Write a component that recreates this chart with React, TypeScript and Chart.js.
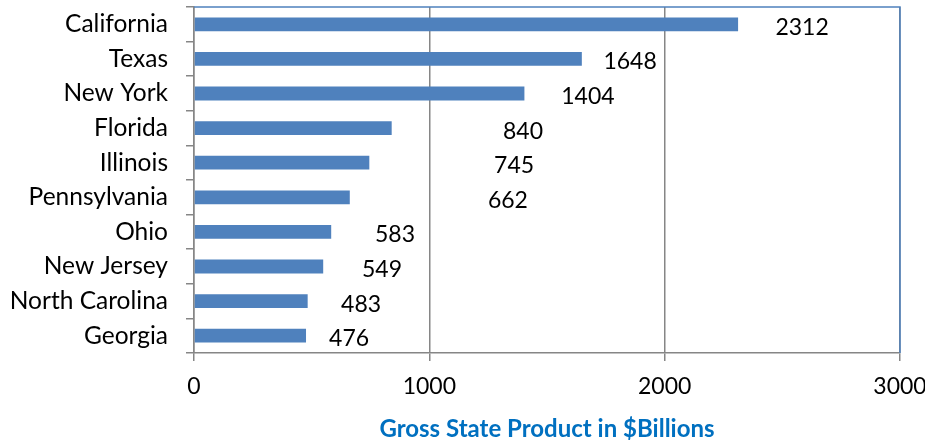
import React, { useEffect, useRef } from "react";
import { Chart, registerables } from "chart.js";

Chart.register(...registerables);

const states = [
  "California",
  "Texas",
  "New York",
  "Florida",
  "Illinois",
  "Pennsylvania",
  "Ohio",
  "New Jersey",
  "North Carolina",
  "Georgia",
];
const gsp = [2312, 1648, 1404, 840, 745, 662, 583, 549, 483, 476];
// where each value label sits, in axis units
const labelAt = [2584, 1853, 1674, 1398, 1360, 1334, 854, 799, 710, 659];
const xTicks = [0, 1000, 2000, 3000];
const xTitle = "Gross State Product in $Billions";

const FONT = "Lato, 'DejaVu Sans', sans-serif";
const GRAY = "#868686";
const BLUE = "#4f81bd";

const labelPlugin = {
  id: "valueLabels",
  afterDatasetsDraw(chart: any) {
    const { ctx, scales } = chart;
    const meta = chart.getDatasetMeta(0);
    ctx.save();
    ctx.font = `23px ${FONT}`;
    ctx.fillStyle = "#000";
    ctx.textAlign = "center";
    ctx.textBaseline = "middle";
    meta.data.forEach((bar: any, i: number) => {
      const x = scales.x.getPixelForValue(labelAt[i]);
      ctx.fillText(String(gsp[i]), x, bar.y + 3);
    });
    ctx.restore();
  },
  afterDraw(chart: any) {
    const { ctx, chartArea } = chart;
    ctx.save();
    ctx.strokeStyle = BLUE;
    ctx.lineWidth = 1.5;
    ctx.beginPath();
    ctx.moveTo(chartArea.left, chartArea.top);
    ctx.lineTo(chartArea.right, chartArea.top);
    ctx.lineTo(chartArea.right, chartArea.bottom);
    ctx.stroke();
    ctx.restore();
  },
};

export default function App() {
  const ref = useRef<HTMLCanvasElement>(null);
  useEffect(() => {
    if (!ref.current) return;
    const chart = new Chart(ref.current, {
      type: "bar",
      data: {
        labels: states,
        datasets: [
          {
            data: gsp,
            backgroundColor: BLUE,
            borderWidth: 0,
            categoryPercentage: 1,
            barPercentage: 0.4,
          },
        ],
      },
      options: {
        indexAxis: "y",
        animation: false,
        responsive: false,
        maintainAspectRatio: false,
        layout: { padding: { top: 7, right: 25, left: 0, bottom: 0 } },
        plugins: {
          legend: { display: false },
          tooltip: { enabled: false },
        },
        scales: {
          x: {
            min: xTicks[0],
            max: xTicks[xTicks.length - 1],
            afterBuildTicks(scale: any) {
              scale.ticks = xTicks.map((v) => ({ value: v }));
            },
            afterFit(scale: any) {
              scale.height = 92;
              scale.paddingLeft = 0;
              scale.paddingRight = 0;
              scale.paddingTop = 0;
              scale.paddingBottom = 0;
            },
            grid: {
              color: GRAY,
              lineWidth: 1.5,
              tickLength: 8,
              drawOnChartArea: true,
            },
            border: { color: GRAY, width: 1.5 },
            ticks: {
              color: "#000",
              font: { family: FONT, size: 23 },
              padding: 12,
              maxRotation: 0,
              callback: (v: any) => String(v),
            },
            title: {
              display: true,
              text: xTitle,
              color: "#0070c0",
              font: { family: FONT, size: 24, weight: "bold" },
              padding: { top: 0, bottom: 1 },
            },
          },
          y: {
            afterFit(scale: any) {
              scale.width = 194;
              scale.paddingTop = 0;
              scale.paddingBottom = 0;
              scale.paddingLeft = 0;
              scale.paddingRight = 0;
            },
            grid: {
              color: GRAY,
              lineWidth: 1.5,
              tickLength: 8,
              drawOnChartArea: false,
              offset: true,
            },
            border: { color: GRAY, width: 1.5 },
            ticks: {
              color: "#000",
              font: { family: FONT, size: 24.5 },
              padding: 18,
              autoSkip: false,
            },
          },
        },
      },
      plugins: [labelPlugin],
    });
    return () => chart.destroy();
  }, []);
  return (
    <div style={{ position: "fixed", left: 0, top: 0, width: 925, height: 445, background: "#fff" }}>
      <canvas ref={ref} width={925} height={445} style={{ display: "block" }} />
    </div>
  );
}
